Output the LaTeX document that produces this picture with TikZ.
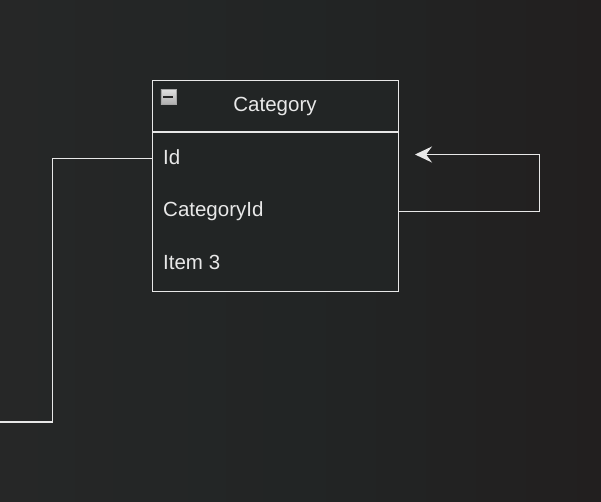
\documentclass[tikz,border=0pt]{standalone}
\usepackage{fontspec}
\setmainfont{Liberation Sans}
\usetikzlibrary{arrows.meta}
\definecolor{bgA}{HTML}{262727}
\definecolor{bgB}{HTML}{221F1F}
\definecolor{bgC}{HTML}{222525}
\definecolor{linec}{HTML}{E8E8E8}
\definecolor{txt}{HTML}{E8E8E8}
\definecolor{tblfill}{HTML}{222525}
\begin{document}
\begin{tikzpicture}[x=1pt,y=-1pt,
  conn/.style={draw=linec,line width=1.4pt},
  rowtext/.style={text=txt,font=\fontsize{20.5}{24}\selectfont,anchor=base west,inner sep=0pt},
  titletext/.style={text=txt,font=\fontsize{20.5}{24}\selectfont,anchor=base,inner sep=0pt}]
\shade[left color=bgA,right color=bgB,middle color=bgC] (0,0) rectangle (601,502);
\useasboundingbox (0,0) rectangle (601,502);
% table
\node[draw=linec,line width=1.4pt,fill=tblfill,minimum width=246pt,minimum height=211pt,anchor=north west,inner sep=0pt] (tbl) at (152,80) {};
\coordinate (hl) at (152,132);
\coordinate (hr) at (398,132);
\draw[draw=linec,line width=1.4pt] (hl) -- (hr);
\node[titletext] (title) at (275,112) {Category};
% collapse icon
\node[draw=gray!70,line width=0.6pt,top color=gray!25,bottom color=gray!65,minimum width=15pt,minimum height=15pt,inner sep=0pt,anchor=north west] (icon) at (160.5,89.5) {};
\draw[line width=2pt,draw=black!85] ([xshift=-5pt]icon.center) -- ([xshift=5pt]icon.center);
% rows
\node[rowtext] (id) at (163,164.5) {Id};
\node[rowtext] (catid) at (163,217) {CategoryId};
\node[rowtext] (item3) at (163,269.5) {Item 3};
% anchor points
\coordinate (idL) at (152,158.5);
\coordinate (lbend1) at (52.5,158.5);
\coordinate (lbend2) at (52.5,422);
\coordinate (lend) at (-2,422);
\draw[conn] (idL) -- (lbend1) -- (lbend2) -- (lend);
\coordinate (catR) at (398,211.5);
\coordinate (rb1) at (539.5,211.5);
\coordinate (rb2) at (539.5,154.5);
\coordinate (tip) at (415,154.5);
\draw[conn,-{Stealth[length=17pt,width=16pt,inset=6pt]}] (catR) -- (rb1) -- (rb2) -- (tip);
\end{tikzpicture}
\end{document}
